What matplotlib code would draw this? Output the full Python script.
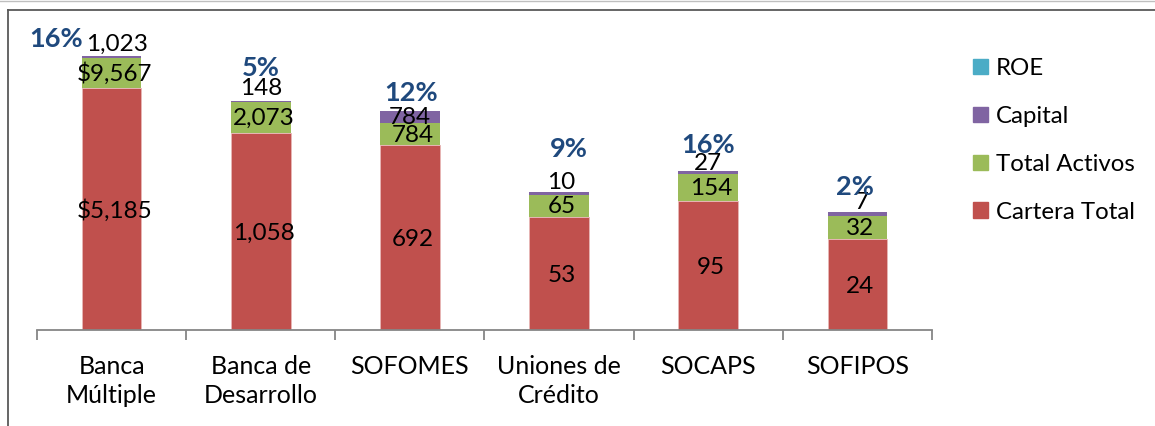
import matplotlib
matplotlib.use("Agg")
import matplotlib.pyplot as plt
from matplotlib.lines import Line2D
from matplotlib.patches import Patch
import numpy as np

# ----------------------------
# Data
# ----------------------------
categories = ["Banca\nMúltiple", "Banca de\nDesarrollo", "SOFOMES",
              "Uniones de\nCrédito", "SOCAPS", "SOFIPOS"]
cartera = [5185, 1058, 692, 53, 95, 24]
activos = [9567, 2073, 784, 65, 154, 32]
capital = [1023, 148, 784, 10, 27, 7]
roe = [0.16, 0.05, 0.12, 0.09, 0.16, 0.02]

# Office 2007 palette
RED = "#C0504D"
GREEN = "#9BBB59"
PURPLE = "#8064A2"
CYAN = "#4BACC6"
ROE_TXT = "#1F497D"
AXIS_GREY = "#868686"

LBL_SIZE = 17.5
PCT_SIZE = 19.5

plt.rcParams.update({
    "font.family": ["Lato", "DejaVu Sans"],
    "font.size": 16,
})

W, H = 1155, 426
fig = plt.figure(figsize=(W / 100, H / 100), dpi=100)
ax = fig.add_axes([37 / W, 1 - 330 / H, (932 - 37) / W, (330 - 4) / H])

x = np.arange(len(categories))
cartera = np.array(cartera, dtype=float)
activos = np.array(activos, dtype=float)
capital = np.array(capital, dtype=float)
roe = np.array(roe, dtype=float)

width = 0.4
b0 = np.ones(len(x))
ax.bar(x, cartera, width, bottom=b0, color=RED, edgecolor="#E8B7B6", linewidth=0.6)
ax.bar(x, activos, width, bottom=b0 + cartera, color=GREEN, edgecolor="none")
ax.bar(x, capital, width, bottom=b0 + cartera + activos, color=PURPLE, edgecolor="none")
ax.bar(x, roe, width, bottom=b0 + cartera + activos + capital, color=CYAN, edgecolor="none")

ax.set_yscale("log")
ax.set_ylim(1, 1e5)
ax.set_xlim(-0.5, len(x) - 0.5)

# axis styling
for s in ["top", "right", "left"]:
    ax.spines[s].set_visible(False)
ax.spines["bottom"].set_color(AXIS_GREY)
ax.spines["bottom"].set_linewidth(1.3)
ax.set_yticks([])
ax.yaxis.set_minor_locator(matplotlib.ticker.NullLocator())
ax.set_xticks(x)
ax.set_xticklabels(categories, fontsize=18, linespacing=1.33)
ax.set_xticks(np.arange(-0.5, len(x)), minor=True)
ax.tick_params(axis="x", which="major", length=0, pad=18)
ax.tick_params(axis="x", which="minor", length=7, color=AXIS_GREY, width=1.3)

# ----------------------------
# Labels
# ----------------------------
def fmt(v, dollar=False):
    return ("$" if dollar else "") + f"{int(v):,}"

for i in x:
    # Cartera (center of segment in log space)
    lo, hi = 1.0, 1.0 + cartera[i]
    ax.annotate(fmt(cartera[i], i == 0), (i, np.sqrt(lo * hi)), xytext=(3, -2),
                textcoords="offset pixels", ha="center", va="center", fontsize=LBL_SIZE)
    lo, hi = hi, hi + activos[i]
    ax.annotate(fmt(activos[i], i == 0), (i, np.sqrt(lo * hi)), xytext=(3, -1),
                textcoords="offset pixels", ha="center", va="center", fontsize=LBL_SIZE)

# Capital labels: offset from segment top (pixels)
cap_off = [(5, 12), (0, 12), (0, -6), (2, 10), (0, 7), (4, 10)]
# ROE labels: offset from bar top (pixels)
roe_off = [(-55, 17), (0, 33), (1, 18), (10, 43), (0, 26), (-2, 25)]
for i in x:
    top = 1.0 + cartera[i] + activos[i] + capital[i]
    ax.annotate(fmt(capital[i]), (i, top), xytext=cap_off[i],
                textcoords="offset pixels", ha="center", va="center", fontsize=LBL_SIZE)
    ax.annotate(f"{roe[i]:.0%}", (i, top), xytext=roe_off[i],
                textcoords="offset pixels", ha="center", va="center",
                fontsize=PCT_SIZE, fontweight="bold", color=ROE_TXT)

# ----------------------------
# Legend
# ----------------------------
handles = [Patch(color=CYAN, label="ROE"),
           Patch(color=PURPLE, label="Capital"),
           Patch(color=GREEN, label="Total Activos"),
           Patch(color=RED, label="Cartera Total")]
fig.legend(handles=handles, loc="upper left", bbox_to_anchor=(973 / W, 1 - 58 / H),
           frameon=False, fontsize=17.3, handlelength=0.62, handleheight=0.62,
           handletextpad=0.32, labelspacing=1.12, borderpad=0, borderaxespad=0)

# ----------------------------
# Chart frame (top and left edges)
# ----------------------------
fig.add_artist(Line2D([8 / W, 1], [1 - 9.5 / H, 1 - 9.5 / H],
                      transform=fig.transFigure, color="#595959", lw=1.3))
fig.add_artist(Line2D([8 / W, 8 / W], [0, 1 - 9.5 / H],
                      transform=fig.transFigure, color="#595959", lw=1.3))
fig.add_artist(Line2D([0, 1], [1 - 0.5 / H, 1 - 0.5 / H],
                      transform=fig.transFigure, color="#BFBFBF", lw=1))

fig.savefig("out.png", dpi=100)
